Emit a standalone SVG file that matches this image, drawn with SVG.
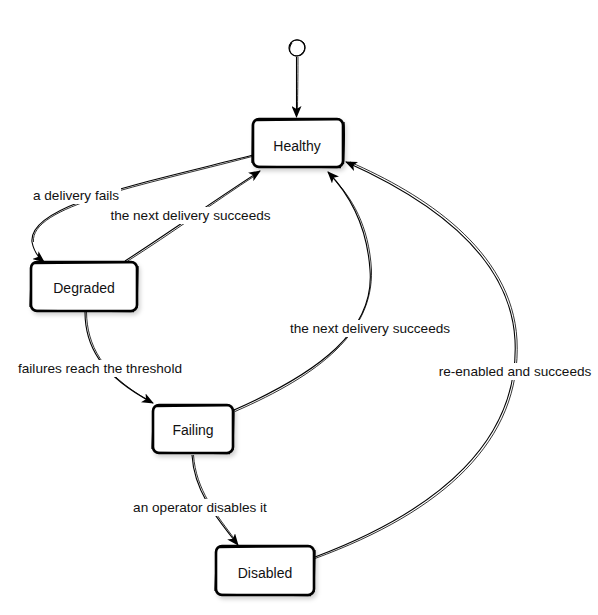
<svg xmlns="http://www.w3.org/2000/svg" width="598" height="615" viewBox="0 0 598 615">
<style>
.node rect.main{fill:#fff;stroke:#000;stroke-width:2.6}
.node path.sk{fill:none;stroke:#000;stroke-width:1.3}
.nt{font-family:"Liberation Sans",Arial,sans-serif;font-size:14px;fill:#111;text-anchor:middle;dominant-baseline:central}
.edge{fill:none;stroke:#000;stroke-width:1.1}
.edge2{fill:none;stroke:#000;stroke-width:0.8}
.lbg{fill:#fff}
.lt{font-family:"Liberation Sans",Arial,sans-serif;font-size:13.6px;fill:#111;text-anchor:middle;dominant-baseline:central}
</style>
<defs>
<marker id="arr" viewBox="0 0 12 10" refX="11" refY="5" markerWidth="12" markerHeight="10" markerUnits="userSpaceOnUse" orient="auto">
<path d="M0,0 L12,5 L0,10 L3,5 z" fill="#000"/>
</marker>
<filter id="sh" x="-20%" y="-20%" width="140%" height="150%">
<feDropShadow dx="2" dy="3" stdDeviation="2" flood-color="#000" flood-opacity="0.18"/>
</filter>
</defs>
<rect width="598" height="615" fill="#fff"/>

<g id="connectors">
<!-- start -> Healthy -->
<path class="edge" d="M296.5,57 L296.5,117" marker-end="url(#arr)"/>
<path class="edge2" d="M298,57 C298,80 297.5,100 297.5,112"/>
<!-- Healthy -> Degraded -->
<path class="edge" d="M253,155 C140,184 28,205 32,242 C34,252 39,258 44,262" marker-end="url(#arr)"/>
<path class="edge2" d="M252,156.5 C140,186 30,206 33.5,242"/>
<!-- Degraded -> Healthy -->
<path class="edge" d="M125,261 C170,232 215,200 260,171" marker-end="url(#arr)"/>
<path class="edge2" d="M127,261.5 C172,233 216,201 256,175"/>
<!-- Degraded -> Failing -->
<path class="edge" d="M85,312 C85,345 100,375 153,403" marker-end="url(#arr)"/>
<path class="edge2" d="M86.5,312 C87,345 102,374 148,400"/>
<!-- Failing -> Healthy -->
<path class="edge" d="M234,410 C320,372 375,330 370,270 C367,225 350,195 328,172" marker-end="url(#arr)"/>
<path class="edge2" d="M235,411.5 C321,374 373,332 371.5,270 C369,226 352,197 331,176"/>
<!-- Failing -> Disabled -->
<path class="edge" d="M192,455 C194,490 214,515 238,545" marker-end="url(#arr)"/>
<path class="edge2" d="M193.5,455 C196,490 216,514 236,541"/>
<!-- Disabled -> Healthy -->
<path class="edge" d="M315,557 C440,510 520,440 515,340 C510,250 420,195 346,162" marker-end="url(#arr)"/>
<path class="edge2" d="M315,558.5 C442,512 522,441 517,340 C512,249 421,193 350,162"/>
</g>

<g id="start">
<circle cx="297" cy="48" r="8" fill="#fff" stroke="#000" stroke-width="1.2"/>
<path d="M290,45 C291,39 300,38 304,43 C307,49 302,56 296,56 C289,55 288,48 292,43" fill="none" stroke="#000" stroke-width="1"/>
</g>

<g id="healthy" class="node">
<rect class="main" x="253" y="119" width="90" height="48" rx="6" filter="url(#sh)"/>
<path class="sk" d="M256,120.5 L340,119.5 M344,122 C345,135 344,150 343.5,164 M341,167.5 L257,166.5 M252,163 L252.5,123"/>
<text class="nt" x="297" y="146">Healthy</text>
</g>

<g id="degraded" class="node">
<rect class="main" x="31" y="262" width="106" height="49" rx="6" filter="url(#sh)"/>
<path class="sk" d="M34,263.5 L134,262.5 M138,266 L137,308 M134,311.5 L35,310.5 M30,307 L31.5,266"/>
<text class="nt" x="84" y="288">Degraded</text>
</g>

<g id="failing" class="node">
<rect class="main" x="153" y="405" width="80" height="48" rx="6" filter="url(#sh)"/>
<path class="sk" d="M156,406.5 L230,405.5 M234,409 L233,450 M230,453.5 L157,452.5 M152,449 L153.5,409"/>
<text class="nt" x="193" y="430">Failing</text>
</g>

<g id="disabled" class="node">
<rect class="main" x="216" y="546" width="98" height="49" rx="6" filter="url(#sh)"/>
<path class="sk" d="M219,547.5 L311,546.5 M315,550 L314,592 M311,595.5 L220,594.5 M215,591 L216.5,550"/>
<text class="nt" x="265" y="573">Disabled</text>
</g>

<g id="labels">
<rect class="lbg" x="31" y="187" width="90" height="17"/>
<text class="lt" x="76" y="195.5">a delivery fails</text>
<rect class="lbg" x="108" y="207" width="165" height="17"/>
<text class="lt" x="190.5" y="215.5">the next delivery succeeds</text>
<rect class="lbg" x="15" y="360" width="170" height="17"/>
<text class="lt" x="100" y="368.5">failures reach the threshold</text>
<rect class="lbg" x="287" y="320" width="166" height="17"/>
<text class="lt" x="370" y="328.5">the next delivery succeeds</text>
<rect class="lbg" x="436" y="363" width="158" height="17"/>
<text class="lt" x="515" y="371.5">re-enabled and succeeds</text>
<rect class="lbg" x="131" y="499" width="138" height="17"/>
<text class="lt" x="200" y="507.5">an operator disables it</text>
</g>
</svg>
